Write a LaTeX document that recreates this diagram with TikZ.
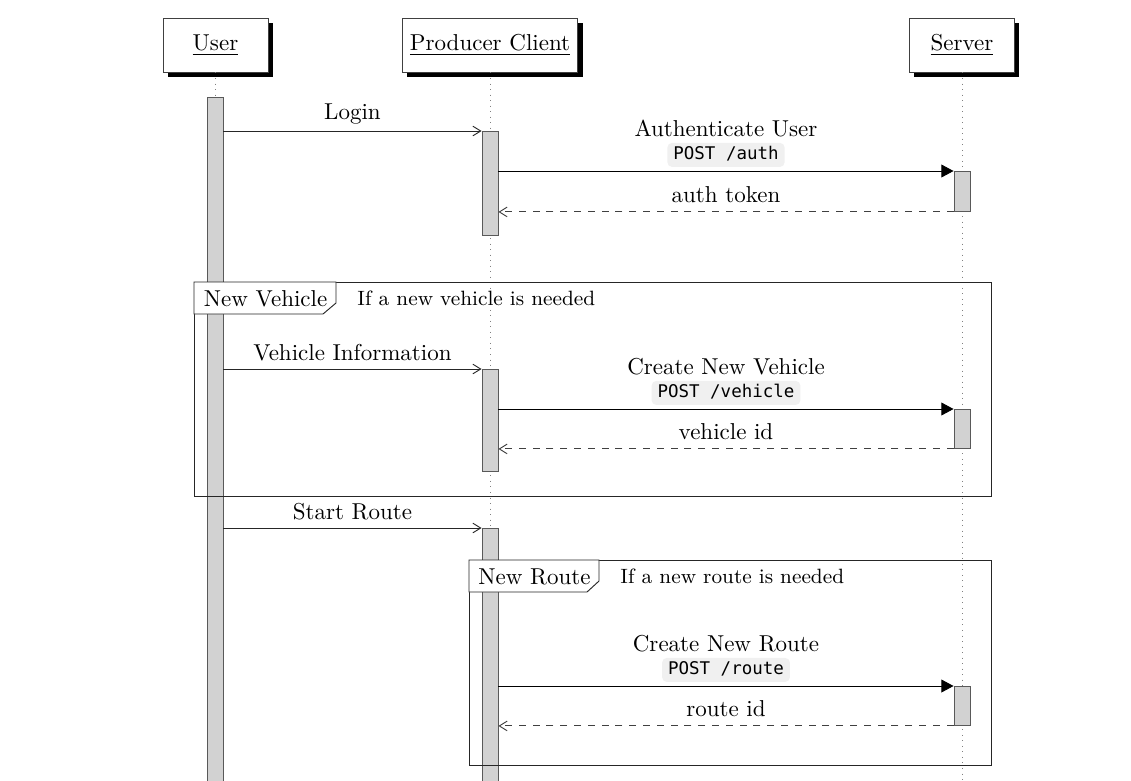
\documentclass[tikz,border=0pt]{standalone}
\usepackage{fontspec}
\newfontfamily\codefont{DejaVu Sans Mono}
\usetikzlibrary{arrows.meta,shadows}
\begin{document}
\begin{tikzpicture}[x=0.4348pt,y=-0.4348pt,
  every node/.style={font=\fontsize{10}{12}\selectfont},
  obj/.style={draw=black!75, fill=white, minimum height=23.5pt, minimum width=45.65pt,
    inner xsep=3.4pt, drop shadow={shadow xshift=2pt, shadow yshift=-2pt, fill=black, opacity=1}},
  life/.style={draw=gray, dotted},
  bar/.style={draw=black!65, fill=gray!35, minimum width=6.96pt, inner sep=0pt, anchor=north, minimum height=#1*0.4348pt},
  msg/.style={draw=black!85, -{Straight Barb[length=3.4pt,width=4.2pt]}},
  call/.style={draw=black, -{Triangle[length=5.3pt,width=5.6pt]}},
  ret/.style={draw=black!75, dashed, -{Straight Barb[length=3.4pt,width=4.2pt]}},
  lbl/.style={midway, anchor=base, inner sep=0pt},
  codebox/.style={midway, fill=gray!12, rounded corners=2pt, inner xsep=2.6pt, inner ysep=1.4pt,
    text height=5.8pt, text depth=1.8pt, font=\fontsize{7.6}{9}\selectfont\codefont},
  frm/.style={draw=black!85},
  tab/.style={draw=black!85, fill=white},
  frtxt/.style={anchor=base west, inner sep=0pt},
  cond/.style={anchor=base west, inner sep=0pt, font=\fontsize{9}{11}\selectfont}
]
\clip (0,0) rectangle (1131,780);
\fill[white] (0,0) rectangle (1131,780);

% objects
\node[obj] (user) at (215.5,45) {\underline{User}};
\node[obj] (client) at (490,45) {\underline{Producer Client}};
\node[obj] (server) at (962,45) {\underline{Server}};

% lifelines
\draw[life] (user.south) -- (user.south |- 0,800);
\draw[life] (client.south) -- (client.south |- 0,800);
\draw[life] (server.south) -- (server.south |- 0,800);

% activation bars
\node[bar=710] (ub) at (215,97) {};
\node[bar=104] (c1b) at (490,131) {};
\node[bar=40] (s1b) at (962,171) {};
\node[bar=102] (c2b) at (490,369) {};
\node[bar=39] (s2b) at (962,409) {};
\node[bar=280] (c3b) at (490,528) {};
\node[bar=39] (s3b) at (962,686) {};

% messages: login
\draw[msg] (ub.east |- c1b.north) -- node[lbl, yshift=5.2pt] {Login} (c1b.north west);
\draw[call] (c1b.east |- s1b.north) -- node[lbl, yshift=15.2pt] {Authenticate User}
  node[codebox, yshift=7pt] {POST /auth} (s1b.north west);
\draw[ret] (s1b.south west) -- node[lbl, yshift=3.9pt] {auth token} (c1b.east |- s1b.south);

% new vehicle
\draw[msg] (ub.east |- c2b.north) -- node[lbl, yshift=3.6pt] {Vehicle Information} (c2b.north west);
\draw[call] (c2b.east |- s2b.north) -- node[lbl, yshift=15.2pt] {Create New Vehicle}
  node[codebox, yshift=7pt] {POST /vehicle} (s2b.north west);
\draw[ret] (s2b.south west) -- node[lbl, yshift=3.9pt] {vehicle id} (c2b.east |- s2b.south);

% start route
\draw[msg] (ub.east |- c3b.north) -- node[lbl, yshift=3.5pt] {Start Route} (c3b.north west);
\draw[call] (c3b.east |- s3b.north) -- node[lbl, yshift=15.2pt] {Create New Route}
  node[codebox, yshift=7pt] {POST /route} (s3b.north west);
\draw[ret] (s3b.south west) -- node[lbl, yshift=3.9pt] {route id} (c3b.east |- s3b.south);

% frame: new vehicle
\draw[frm] (194,282) rectangle (991,496);
\draw[tab] (194,282) -- (336,282) -- (336,303) -- (323,314) -- (194,314) -- cycle;
\node[frtxt] (nvt) at (203.5,306) {New Vehicle};
\node[cond] (nvc) at (357,305) {If a new vehicle is needed};

% frame: new route
\draw[frm] (469,560) rectangle (991,765);
\draw[tab] (469,560) -- (599,560) -- (599,581) -- (587,592) -- (469,592) -- cycle;
\node[frtxt] (nrt) at (478,584) {New Route};
\node[cond] (nrc) at (620,583) {If a new route is needed};
\end{tikzpicture}
\end{document}
